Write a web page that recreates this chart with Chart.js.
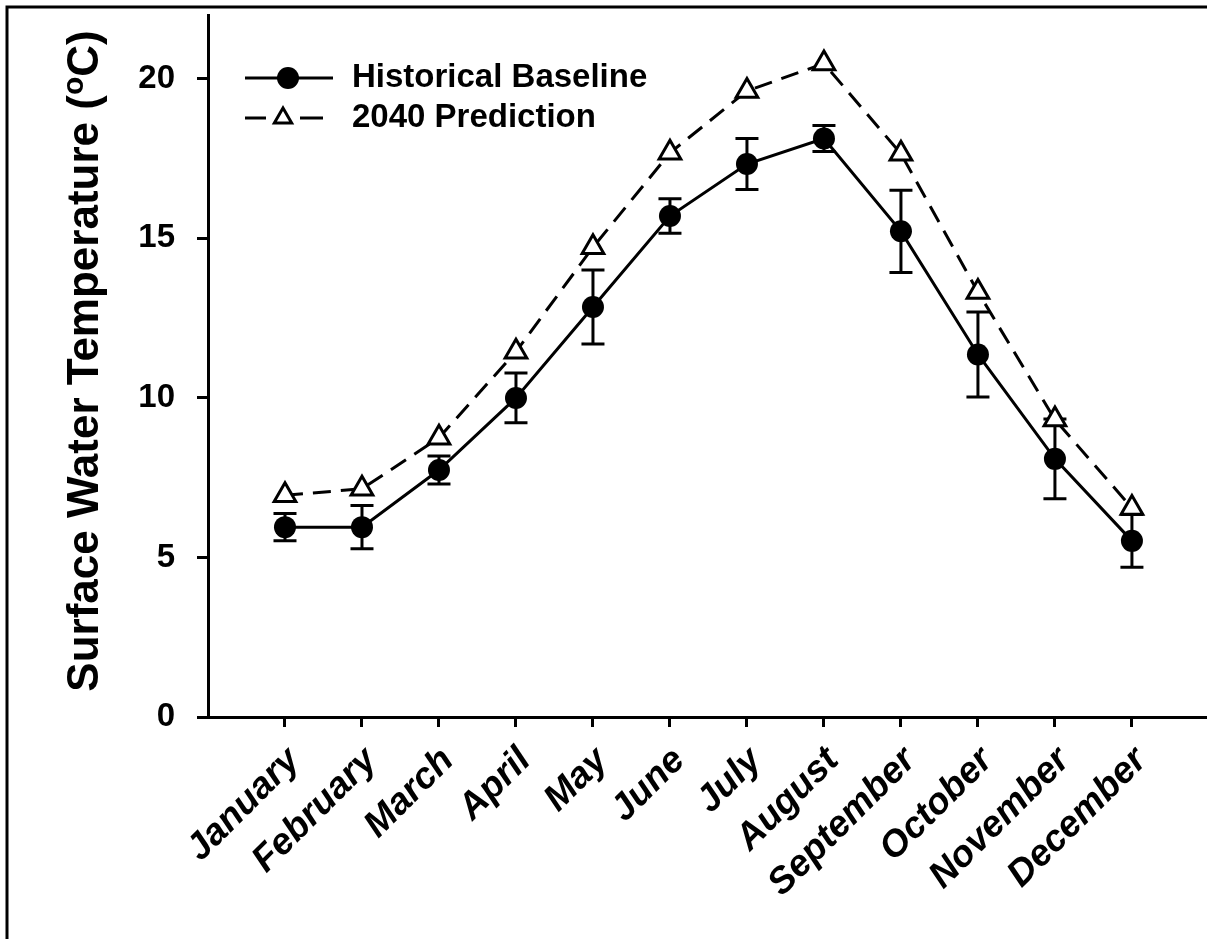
<!DOCTYPE html>
<html>
<head>
<title>Surface Water Temperature</title>
<style>
  body { margin: 0; background: #fff; overflow: hidden; }
  #wrap { width: 1207px; height: 939px; }
</style>
<script src="https://cdn.jsdelivr.net/npm/chart.js"></script>
</head>
<body>
<div id="wrap"><canvas id="tempChart" width="1207" height="939"></canvas></div>
<script>
const months = ['January', 'February', 'March', 'April', 'May', 'June',
                'July', 'August', 'September', 'October', 'November', 'December'];
const baselineTemps = [5.95, 5.95, 7.74, 10.0, 12.85, 15.7, 17.33, 18.13, 15.22, 11.36, 8.09, 5.52];
const baselineErr   = [0.43, 0.68, 0.44, 0.78, 1.16, 0.54, 0.8, 0.41, 1.29, 1.33, 1.25, 0.83];
const predictionTemps = [6.95, 7.15, 8.75, 11.45, 14.72, 17.68, 19.62, 20.48, 17.65, 13.32, 9.32, 6.55];
const yTicks = [0, 5, 10, 15, 20];

const FONT = "'Liberation Sans', Arial, sans-serif";

// black border round the figure (only top and left fall inside the page)
const framePlugin = {
    id: 'frame',
    beforeDraw(chart) {
        const ctx = chart.ctx;
        ctx.save();
        ctx.strokeStyle = '#000';
        ctx.lineWidth = 3;
        ctx.beginPath();
        ctx.moveTo(7, 1000);
        ctx.lineTo(7, 7);
        ctx.lineTo(1300, 7);
        ctx.stroke();
        ctx.restore();
    }
};

// vertical error bars with caps for the baseline series
const errorBarPlugin = {
    id: 'errorBars',
    beforeDatasetsDraw(chart) {
        const ctx = chart.ctx;
        const xs = chart.scales.x, ys = chart.scales.y;
        ctx.save();
        ctx.strokeStyle = '#000';
        ctx.lineWidth = 3;
        baselineTemps.forEach((v, i) => {
            const x = xs.getPixelForValue(i);
            const top = ys.getPixelForValue(v + baselineErr[i]);
            const bot = ys.getPixelForValue(v - baselineErr[i]);
            ctx.beginPath();
            ctx.moveTo(x, top); ctx.lineTo(x, bot);
            ctx.moveTo(x - 11.5, top); ctx.lineTo(x + 11.5, top);
            ctx.moveTo(x - 11.5, bot); ctx.lineTo(x + 11.5, bot);
            ctx.stroke();
        });
        ctx.restore();
    }
};

// y axis title, with a raised "o" for degrees
const yTitlePlugin = {
    id: 'yTitle',
    afterDraw(chart) {
        const ctx = chart.ctx;
        const big = 'bold 44px ' + FONT, small = 'bold 30px ' + FONT;
        const parts = [['Surface Water Temperature (', big, 0], ['o', small, -15], ['C)', big, 0]];
        ctx.save();
        let total = 0;
        parts.forEach(p => { ctx.font = p[1]; total += ctx.measureText(p[0]).width; });
        ctx.translate(98, 361);
        ctx.rotate(-Math.PI / 2);
        ctx.fillStyle = '#000';
        ctx.textBaseline = 'alphabetic';
        ctx.textAlign = 'left';
        let x = -total / 2;
        parts.forEach(p => {
            ctx.font = p[1];
            ctx.fillText(p[0], x, p[2]);
            x += ctx.measureText(p[0]).width;
        });
        ctx.restore();
    }
};

// legend: line sample with its marker in the middle
const legendPlugin = {
    id: 'lineLegend',
    afterDraw(chart) {
        const ctx = chart.ctx;
        ctx.save();
        ctx.strokeStyle = '#000';
        ctx.fillStyle = '#000';
        ctx.lineWidth = 3;

        // Historical Baseline
        let y = 78;
        ctx.beginPath();
        ctx.moveTo(245, y); ctx.lineTo(333, y);
        ctx.stroke();
        ctx.beginPath();
        ctx.arc(288, y, 11, 0, Math.PI * 2);
        ctx.fill();

        // 2040 Prediction
        y = 118;
        ctx.beginPath();
        ctx.moveTo(245, y); ctx.lineTo(266, y);
        ctx.moveTo(300, y); ctx.lineTo(323, y);
        ctx.stroke();
        const r = 10;
        ctx.beginPath();
        for (let k = 0; k < 3; k++) {
            const a = k * 2 * Math.PI / 3;
            const px = 283 + Math.sin(a) * r, py = y - Math.cos(a) * r;
            if (k === 0) ctx.moveTo(px, py); else ctx.lineTo(px, py);
        }
        ctx.closePath();
        ctx.fillStyle = '#fff';
        ctx.fill();
        ctx.stroke();

        ctx.fillStyle = '#000';
        ctx.font = 'bold 33px ' + FONT;
        ctx.textBaseline = 'middle';
        ctx.fillText('Historical Baseline', 352, 78);
        ctx.fillText('2040 Prediction', 352, 118);
        ctx.restore();
    }
};

const ctx = document.getElementById('tempChart').getContext('2d');
new Chart(ctx, {
    type: 'line',
    data: {
        datasets: [{
            label: 'Historical Baseline',
            data: baselineTemps.map((v, i) => ({ x: i, y: v })),
            borderColor: '#000',
            borderWidth: 3,
            pointStyle: 'circle',
            pointRadius: 11,
            pointBackgroundColor: '#000',
            pointBorderWidth: 0,
            tension: 0
        }, {
            label: '2040 Prediction',
            data: predictionTemps.map((v, i) => ({ x: i, y: v })),
            borderColor: '#000',
            borderWidth: 3,
            borderDash: [18, 10],
            pointStyle: 'triangle',
            pointRadius: 12.5,
            pointBackgroundColor: '#fff',
            pointBorderColor: '#000',
            pointBorderWidth: 3,
            tension: 0
        }]
    },
    options: {
        responsive: false,
        animation: false,
        layout: { autoPadding: false, padding: { top: 15, left: 0, right: 0, bottom: 0 } },
        plugins: {
            legend: { display: false },
            tooltip: { enabled: false }
        },
        scales: {
            x: {
                type: 'linear',
                min: -1,
                max: 11.975,
                afterBuildTicks: scale => {
                    scale.ticks = months.map((m, i) => ({ value: i }));
                },
                afterFit: scale => {
                    scale.height = 222;
                    scale.paddingLeft = 0;
                    scale.paddingRight = 0;
                },
                grid: { drawOnChartArea: false, tickLength: 10, tickWidth: 3, tickColor: '#000' },
                border: { color: '#000', width: 3 },
                ticks: {
                    autoSkip: false,
                    minRotation: 45,
                    maxRotation: 45,
                    padding: 12,
                    labelOffset: 9,
                    color: '#000',
                    font: { family: FONT, size: 37, weight: 'bold', style: 'italic' },
                    callback: v => months[v]
                }
            },
            y: {
                min: 0,
                max: 22,
                afterBuildTicks: scale => {
                    scale.ticks = yTicks.map(v => ({ value: v }));
                },
                afterFit: scale => {
                    scale.width = 208;
                    scale.paddingTop = 0;
                    scale.paddingBottom = 0;
                },
                grid: { drawOnChartArea: false, tickLength: 11, tickWidth: 3, tickColor: '#000' },
                border: { color: '#000', width: 3 },
                ticks: {
                    padding: 22,
                    color: '#000',
                    font: { family: FONT, size: 33, weight: 'bold' }
                }
            }
        }
    },
    plugins: [framePlugin, errorBarPlugin, yTitlePlugin, legendPlugin]
});
</script>
</body>
</html>
